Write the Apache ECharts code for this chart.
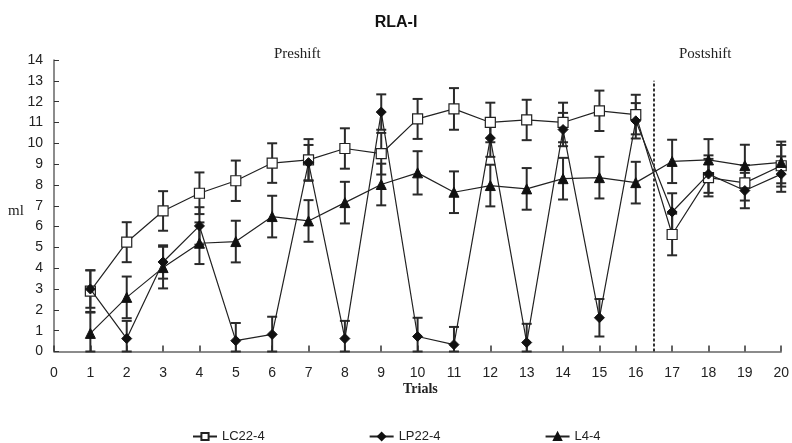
<!DOCTYPE html>
<html>
<head>
<meta charset="utf-8">
<script src="https://cdn.jsdelivr.net/npm/echarts@6/dist/echarts.min.js"></script>
<style>html,body{margin:0;padding:0;background:#fff}#c{width:792px;height:443px}</style>
</head>
<body>
<div id="c"></div>
<script>
var trials = [1,2,3,4,5,6,7,8,9,10,11,12,13,14,15,16,17,18,19,20];
var lc = [2.9,5.25,6.75,7.6,8.2,9.05,9.2,9.75,9.5,11.17,11.65,11.0,11.12,11.0,11.56,11.38,5.62,8.35,8.1,8.92];
var lcErr = [1.0,0.96,0.95,1.0,0.97,0.95,1.0,0.97,1.0,0.96,1.0,0.95,0.97,0.95,0.97,0.95,1.0,0.9,0.85,1.0];
var lp = [3.0,0.62,4.3,6.03,0.52,0.82,9.07,0.62,11.5,0.72,0.33,10.25,0.43,10.66,1.62,11.08,6.7,8.52,7.73,8.52];
var lpErr = [0.9,0.85,0.8,0.9,0.85,0.85,0.85,0.85,0.85,0.9,0.85,0.9,0.9,0.8,0.9,0.85,0.9,0.9,0.85,0.85];
var l4 = [0.87,2.6,4.03,5.2,5.28,6.48,6.27,7.15,8.02,8.58,7.65,7.97,7.81,8.3,8.35,8.11,9.13,9.2,8.93,9.08];
var l4Err = [1.0,1.0,1.0,1.0,1.0,1.0,1.0,1.0,1.0,1.04,1.0,1.0,1.0,1.0,1.0,1.0,1.04,1.0,1.0,1.0];
var shiftAt = 16.5;
var shiftTop = 13;

function pairs(v){ return trials.map(function(t,i){ return [t, v[i]]; }); }
function errData(v,e){ return trials.map(function(t,i){ return [t, Math.max(0, v[i]-e[i]), v[i]+e[i]]; }); }

function errSeries(v,e){
  return {
    type: 'custom',
    silent: true,
    z: 1,
    data: errData(v,e),
    renderItem: function(params, api){
      var x = api.value(0);
      var lo = api.coord([x, api.value(1)]);
      var hi = api.coord([x, api.value(2)]);
      var hw = 5;
      var st = {stroke: '#2a2a2a', lineWidth: 2};
      return {
        type: 'group',
        children: [
          {type: 'line', shape: {x1: lo[0], y1: lo[1], x2: hi[0], y2: hi[1]}, style: st},
          {type: 'line', shape: {x1: hi[0]-hw, y1: hi[1], x2: hi[0]+hw, y2: hi[1]}, style: st},
          {type: 'line', shape: {x1: lo[0]-hw, y1: lo[1], x2: lo[0]+hw, y2: lo[1]}, style: st}
        ]
      };
    }
  };
}

var chart = echarts.init(document.getElementById('c'));
var sans = 'Liberation Sans';
chart.setOption({
  animation: false,
  backgroundColor: '#fff',
  textStyle: {fontFamily: sans},
  title: {
    text: 'RLA-I', left: 'center', top: 10,
    textStyle: {fontFamily: sans, fontWeight: 'bold', fontSize: 16, color: '#111'}
  },
  grid: {left: 54, right: 10.5, top: 60, bottom: 91.5, containLabel: false},
  legend: {
    left: 187, top: 425, itemGap: 104, itemWidth: 24, itemHeight: 9,
    textStyle: {fontFamily: sans, fontSize: 13, color: '#222'},
    data: ['LC22-4','LP22-4','L4-4']
  },
  xAxis: {
    type: 'value', min: 0, max: 20, interval: 1,
    axisLine: {lineStyle: {color: '#666', width: 1.5}},
    axisTick: {inside: true, length: 6, lineStyle: {color: '#333', width: 1.5}},
    axisLabel: {fontFamily: sans, fontSize: 14, color: '#222', margin: 15},
    splitLine: {show: false}
  },
  yAxis: {
    type: 'value', min: 0, max: 14, interval: 1,
    axisLine: {show: true, lineStyle: {color: '#666', width: 1.5}},
    axisTick: {show: true, inside: true, length: 5, lineStyle: {color: '#333', width: 1}},
    axisLabel: {fontFamily: sans, fontSize: 14, color: '#222', margin: 11},
    splitLine: {show: false}
  },
  graphic: [
    {type: 'text', left: 274, top: 47, style: {text: 'Preshift', font: '15px "Liberation Serif"', fill: '#222'}},
    {type: 'text', left: 679, top: 47, style: {text: 'Postshift', font: '15px "Liberation Serif"', fill: '#222'}},
    {type: 'text', left: 8, top: 204, style: {text: 'ml', font: '15px "Liberation Serif"', fill: '#222'}},
    {type: 'text', left: 403, top: 382, style: {text: 'Trials', font: 'bold 14px "Liberation Serif"', fill: '#222'}}
  ],
  series: [
    errSeries(lc, lcErr),
    errSeries(lp, lpErr),
    errSeries(l4, l4Err),
    {
      name: 'LC22-4', type: 'line', data: pairs(lc), z: 3,
      symbol: 'rect', symbolSize: 10, showAllSymbol: true,
      lineStyle: {color: '#222', width: 1.2},
      itemStyle: {color: '#fff', borderColor: '#222', borderWidth: 1.2},
      markLine: {
        silent: true, symbol: 'none', label: {show: false},
        lineStyle: {color: '#333', type: [3,2], width: 2},
        data: [[{coord: [shiftAt, 0]}, {coord: [shiftAt, shiftTop]}]]
      }
    },
    {
      name: 'LP22-4', type: 'line', data: pairs(lp), z: 4,
      symbol: 'diamond', symbolSize: 10, showAllSymbol: true,
      lineStyle: {color: '#222', width: 1.2},
      itemStyle: {color: '#111', borderColor: '#111', borderWidth: 1}
    },
    {
      name: 'L4-4', type: 'line', data: pairs(l4), z: 3,
      symbol: 'triangle', symbolSize: 10, showAllSymbol: true,
      lineStyle: {color: '#222', width: 1.2},
      itemStyle: {color: '#111', borderColor: '#111', borderWidth: 1}
    }
  ]
});
</script>
</body>
</html>
